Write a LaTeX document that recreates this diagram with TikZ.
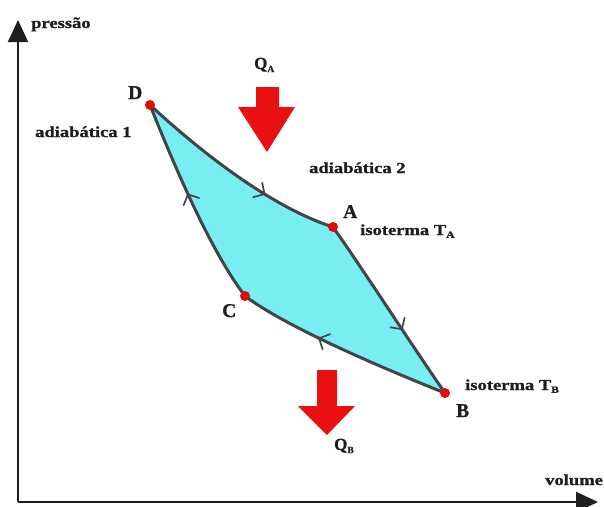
\documentclass[tikz,border=0pt]{standalone}
\usepackage{fontspec}
\usetikzlibrary{arrows.meta,decorations.markings}
\newfontfamily\lblfont[FakeStretch=1.22,FakeBold=1.2]{Liberation Serif}
\newfontfamily\letfont[FakeBold=0.8]{Liberation Serif}
\definecolor{cyclefill}{RGB}{120,238,242}
\definecolor{edgecol}{RGB}{64,70,72}
\definecolor{heatred}{RGB}{232,16,16}
\definecolor{dotred}{RGB}{226,10,10}
\definecolor{txt}{RGB}{30,30,30}
\tikzset{
  axisline/.style={line width=2pt, draw=txt, -{Triangle[length=22pt,width=20pt]}},
  edge/.style={line width=3pt, draw=edgecol, line cap=round, line join=round},
  midarrow/.style={postaction={decorate}, decoration={markings,
     mark=at position #1 with {\arrow{Straight Barb[length=8pt,width=17pt,line width=1.7pt,round]}}}},
  dot/.style={circle, fill=dotred, inner sep=0pt, minimum size=10pt},
  lbl/.style={text=txt, inner sep=0pt, font=\lblfont\bfseries\fontsize{15.2}{17}\selectfont},
  ptlbl/.style={text=txt, inner sep=0pt, font=\letfont\bfseries\fontsize{19.5}{21}\selectfont},
  qlbl/.style={text=txt, inner sep=0pt, font=\letfont\bfseries\fontsize{17}{19}\selectfont},
  heat/.style={fill=heatred, draw=none}
}
\newcommand{\mysub}[1]{\raisebox{-0.4ex}{\fontsize{9.5}{10}\selectfont #1}}
\begin{document}
\begin{tikzpicture}[x=1pt,y=-1pt]
\useasboundingbox (0,0) rectangle (604,506);
% axes
\coordinate (O) at (18,502);
\coordinate (ytop) at (18,20);
\coordinate (xend) at (598,502);
\draw[axisline] (O) -- (ytop);
\draw[axisline] (O) -- (xend);
\node[lbl, anchor=base west] (plab) at (31,28) {pressão};
\node[lbl, anchor=base west] (vlab) at (545,485) {volume};
% cycle points
\coordinate (D) at (150,105);
\coordinate (A) at (333,227);
\coordinate (B) at (445,393);
\coordinate (C) at (245,296);
\fill[cyclefill] (D) .. controls (215,165) and (280,210) .. (A)
  .. controls (360,265) and (415,350) .. (B)
  .. controls (400,375) and (290,330) .. (C)
  .. controls (210,250) and (174,165) .. (D) -- cycle;
\draw[edge, midarrow=0.66] (D) .. controls (215,165) and (280,210) .. (A);
\draw[edge, midarrow=0.62] (A) .. controls (360,265) and (415,350) .. (B);
\draw[edge, midarrow=0.62] (B) .. controls (400,375) and (290,330) .. (C);
\draw[edge, midarrow=0.55] (C) .. controls (210,250) and (174,165) .. (D);
\node[dot] (dD) at (D) {};
\node[dot] (dA) at (A) {};
\node[dot] (dB) at (B) {};
\node[dot] (dC) at (C) {};
% point labels
\node[ptlbl, anchor=base west] (lD) at (128,99) {D};
\node[ptlbl, anchor=base west] (lA) at (343,218) {A};
\node[ptlbl, anchor=base west] (lB) at (456,417) {B};
\node[ptlbl, anchor=base west] (lC) at (222,317) {C};
% curve labels
\node[lbl, anchor=base west] (ad1) at (35,137) {adiabática 1};
\node[lbl, anchor=base west] (ad2) at (309,173) {adiabática 2};
\node[lbl, anchor=base west] (isoA) at (360,235) {isoterma T\mysub{A}};
\node[lbl, anchor=base west] (isoB) at (465,390) {isoterma T\mysub{B}};
% heat arrows
\fill[heat] (256,87) -- (279,87) -- (279,107) -- (295,107) -- (267,152) -- (238,107) -- (256,107) -- cycle;
\fill[heat] (317,370) -- (337,370) -- (337,406) -- (355,406) -- (327,435) -- (298,406) -- (317,406) -- cycle;
\node[qlbl, anchor=base west] (qa) at (254,69) {Q\mysub{A}};
\node[qlbl, anchor=base west] (qb) at (334,450) {Q\mysub{B}};
\end{tikzpicture}
\end{document}
